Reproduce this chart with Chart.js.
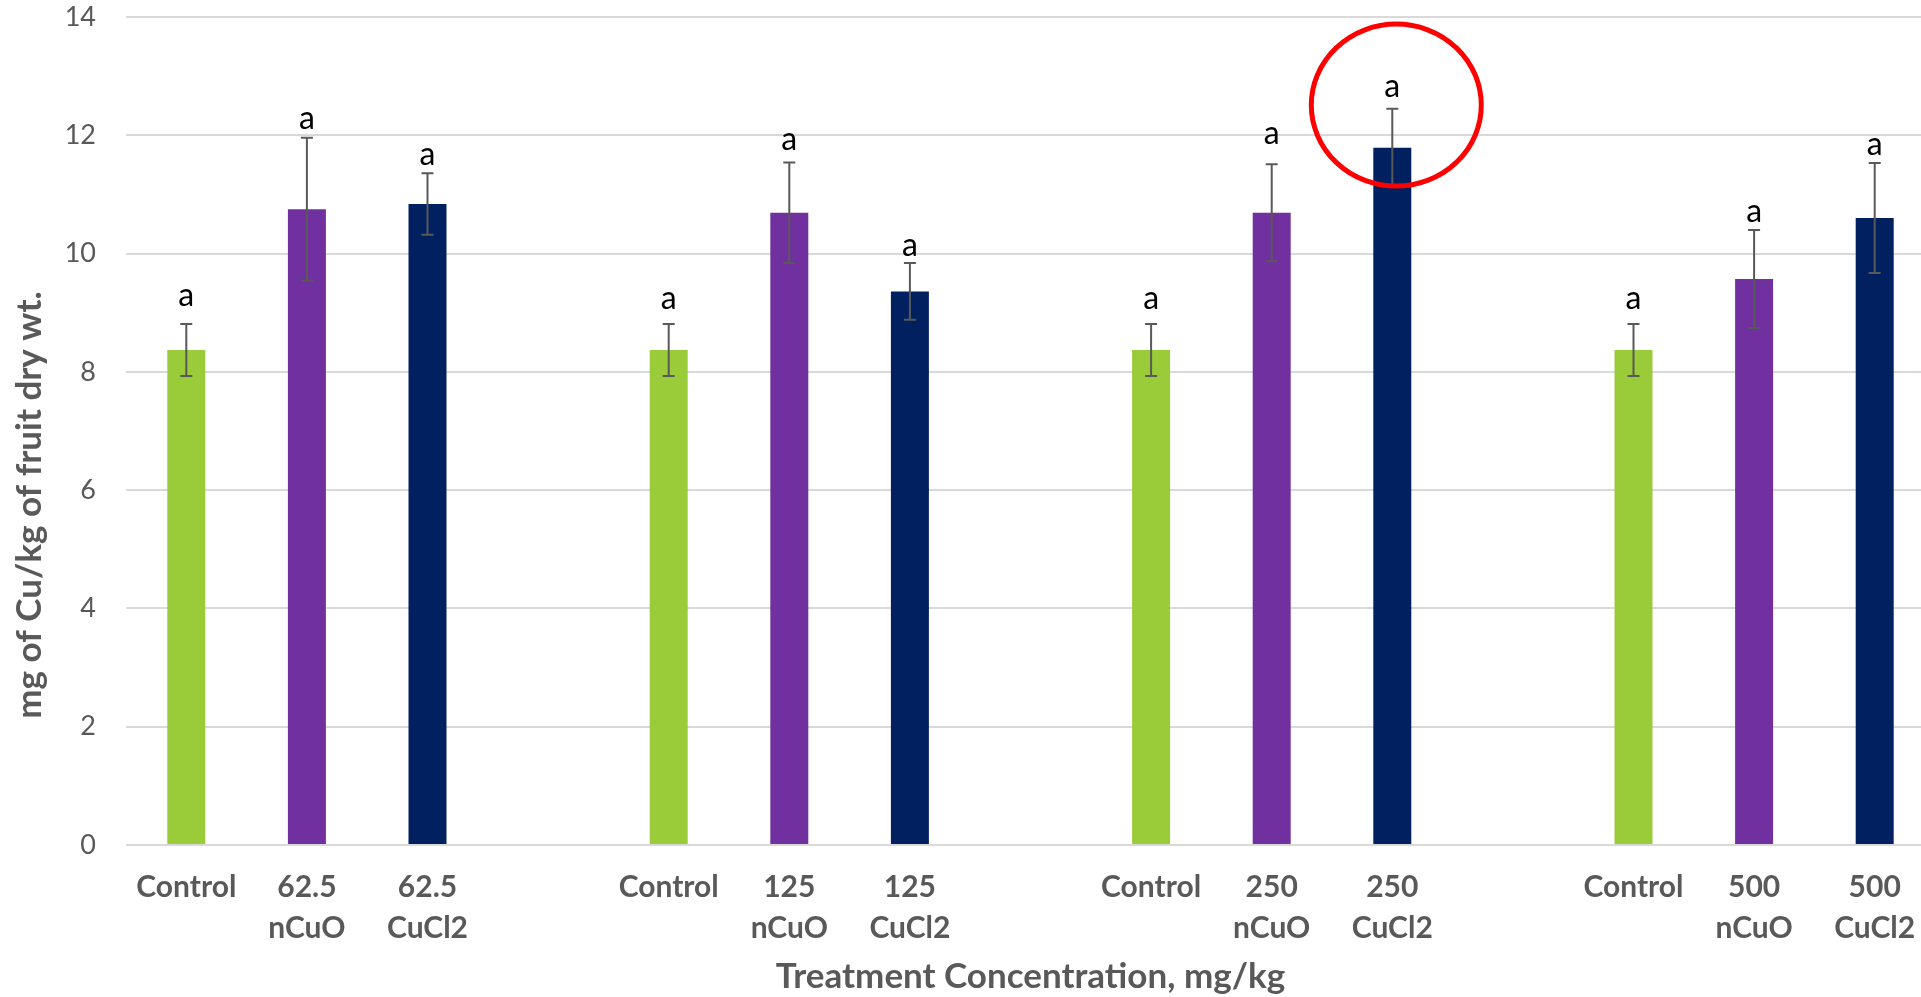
<!DOCTYPE html>
<html>
<head>
<meta charset="utf-8">
<script src="https://cdn.jsdelivr.net/npm/chart.js@4"></script>
<style>
html,body{margin:0;padding:0;background:#fff;overflow:hidden;}
#wrap{width:1935px;height:997px;}
</style>
</head>
<body>
<div id="wrap"><canvas id="c" width="1935" height="997" style="width:1935px;height:997px"></canvas></div>
<script>
// Categories (empty strings are the gaps between treatment groups)
const categories = [
  'Control', ['62.5','nCuO'], ['62.5','CuCl2'], '',
  'Control', ['125','nCuO'], ['125','CuCl2'], '',
  'Control', ['250','nCuO'], ['250','CuCl2'], '',
  'Control', ['500','nCuO'], ['500','CuCl2']
];
const copperValues = [8.37, 10.75, 10.84, null, 8.37, 10.69, 9.36, null, 8.37, 10.69, 11.79, null, 8.37, 9.57, 10.60];
const errorValues  = [0.44, 1.21, 0.52, null, 0.44, 0.85, 0.48, null, 0.44, 0.82, 0.66, null, 0.44, 0.83, 0.93];
// significance letters and the value (y-axis units) where each letter sits
const letterLabels = ['a','a','a','','a','a','a','','a','a','a','','a','a','a'];
const letterLevels = [9.11, 12.11, 11.50, null, 9.07, 11.75, 9.96, null, 9.07, 11.86, 12.65, null, 9.07, 10.53, 11.67];
const barColors = ['#9ACB38','#7030A0','#002060','#ffffff','#9ACB38','#7030A0','#002060','#ffffff','#9ACB38','#7030A0','#002060','#ffffff','#9ACB38','#7030A0','#002060'];
const yTicks = [0, 2, 4, 6, 8, 10, 12, 14];
const highlightIndex = 10;

const FONT = 'Lato, "Open Sans", "Liberation Sans", sans-serif';

const errorBarPlugin = {
  id: 'errorBars',
  afterDatasetsDraw(chart) {
    const ctx = chart.ctx;
    const meta = chart.getDatasetMeta(0);
    const y = chart.scales.y;
    ctx.save();
    copperValues.forEach((v, i) => {
      if (v == null) return;
      const e = errorValues[i];
      const x = meta.data[i].x;
      const yt = y.getPixelForValue(v + e);
      const yb = y.getPixelForValue(v - e);
      ctx.strokeStyle = '#595959';
      ctx.lineWidth = 2;
      ctx.beginPath();
      ctx.moveTo(x, yt); ctx.lineTo(x, yb);
      ctx.moveTo(x - 6, yt); ctx.lineTo(x + 6, yt);
      ctx.moveTo(x - 6, yb); ctx.lineTo(x + 6, yb);
      ctx.stroke();
      ctx.fillStyle = '#000';
      ctx.font = '32px ' + FONT;
      ctx.textAlign = 'center';
      ctx.textBaseline = 'alphabetic';
      ctx.fillText(letterLabels[i], x, y.getPixelForValue(letterLevels[i]));
    });
    // highlight ellipse
    const hx = meta.data[highlightIndex].x + 4;
    const hy = y.getPixelForValue(copperValues[highlightIndex] + errorValues[highlightIndex] + 0.06);
    ctx.strokeStyle = '#FF0000';
    ctx.lineWidth = 5;
    ctx.beginPath();
    ctx.ellipse(hx, hy, 85, 81, 0, 0, Math.PI * 2);
    ctx.stroke();
    // y axis title
    const t = chart.options.scales.y.title;
    ctx.save();
    ctx.translate(30, 505);
    ctx.rotate(-Math.PI / 2);
    ctx.fillStyle = '#595959';
    ctx.font = 'bold 35px ' + FONT;
    ctx.textAlign = 'center';
    ctx.textBaseline = 'middle';
    ctx.fillText(t.text, 0, 0);
    ctx.restore();
    ctx.restore();
  }
};

new Chart(document.getElementById('c'), {
  type: 'bar',
  data: {
    labels: categories,
    datasets: [{
      data: copperValues,
      backgroundColor: barColors,
      barPercentage: 0.315,
      categoryPercentage: 1.0
    }]
  },
  options: {
    responsive: false,
    animation: false,
    layout: { padding: { top: 17, left: 0, right: 0, bottom: 0 } },
    plugins: { legend: { display: false }, tooltip: { enabled: false } },
    scales: {
      x: {
        grid: { display: false, drawTicks: false },
        border: { display: false },
        ticks: {
          color: '#595959',
          font: { family: FONT, size: 30, weight: 'bold', lineHeight: '41px' },
          padding: 22,
          maxRotation: 0,
          autoSkip: false
        },
        title: {
          display: true,
          text: 'Treatment Concentration, mg/kg',
          color: '#595959',
          font: { family: FONT, size: 35, weight: 'bold', lineHeight: '40px' },
          padding: { top: 0, bottom: 0 }
        },
        afterFit(scale) { scale.height = 152; scale.paddingLeft = 0; scale.paddingRight = 0; }
      },
      y: {
        min: 0, max: 14,
        afterBuildTicks(scale) { scale.ticks = yTicks.map(v => ({ value: v })); },
        grid: { color: '#d9d9d9', lineWidth: 2, drawTicks: false },
        border: { display: false },
        ticks: {
          color: '#595959',
          font: { family: FONT, size: 27 },
          padding: 30
        },
        title: { display: false, text: 'mg of Cu/kg of fruit dry wt.' },
        afterFit(scale) { scale.width = 126; scale.paddingTop = 0; scale.paddingBottom = 0; }
      }
    }
  },
  plugins: [errorBarPlugin]
});
</script>
</body>
</html>
